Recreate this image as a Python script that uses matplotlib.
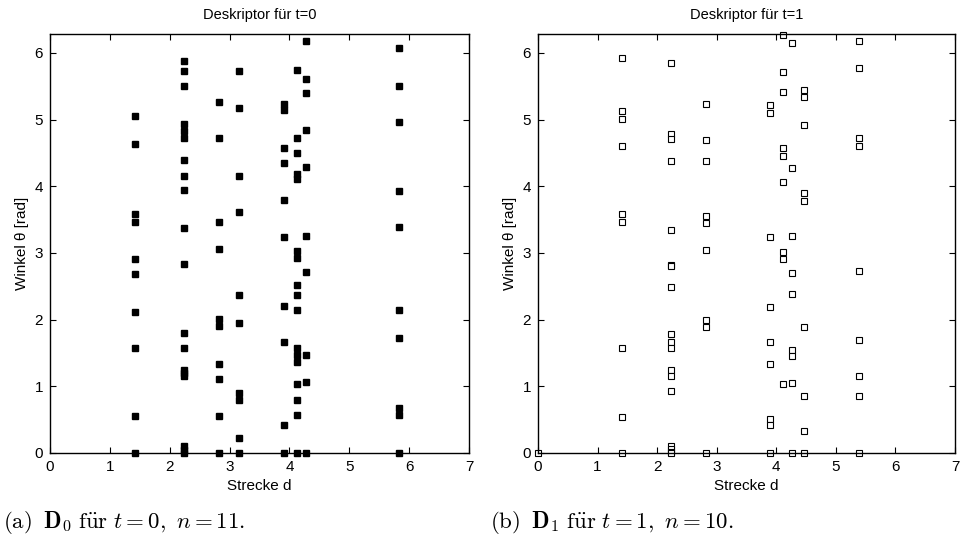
import numpy as np
import matplotlib
matplotlib.use("Agg")
import matplotlib.pyplot as plt

plt.rcParams.update({
    "font.family": ["Liberation Sans", "DejaVu Sans"],
    "mathtext.fontset": "cm",
    "xtick.direction": "in",
    "ytick.direction": "in",
    "xtick.top": True,
    "ytick.right": True,
})

# ---- data: (distance d, list of angles theta) per column ----
d0_cols = {
    1.414: [5.05, 4.63, 3.58, 3.47, 2.91, 2.69, 2.12, 1.58, 0.55, 0.0],
    2.236: [5.88, 5.73, 5.51, 4.94, 4.83, 4.73, 4.40, 4.16, 3.94, 3.37, 2.83,
            1.80, 1.58, 1.25, 1.20, 1.15, 0.10, 0.04, 0.0],
    2.828: [5.27, 4.73, 3.47, 3.06, 2.01, 1.90, 1.33, 1.11, 0.55, 0.0],
    3.162: [5.73, 5.18, 4.16, 3.61, 2.37, 1.95, 0.90, 0.79, 0.23, 0.0],
    3.905: [5.24, 5.14, 4.57, 4.35, 3.80, 3.24, 2.21, 1.67, 0.42, 0.0],
    4.123: [5.75, 4.73, 4.50, 4.18, 4.11, 3.03, 2.93, 2.52, 2.37, 2.14, 1.58,
            1.47, 1.36, 1.04, 0.79, 0.57, 0.0],
    4.275: [6.18, 5.61, 5.40, 4.84, 4.29, 3.25, 2.72, 1.47, 1.06, 0.0],
    5.831: [6.07, 5.50, 4.97, 3.93, 3.39, 2.14, 1.73, 0.68, 0.57, 0.0],
}

d1_cols = {
    0.0: [0.0],
    1.414: [5.93, 5.13, 5.01, 4.60, 3.58, 3.46, 1.57, 0.54, 0.0],
    2.236: [5.85, 4.79, 4.71, 4.38, 3.35, 2.82, 2.80, 2.49, 1.78, 1.67, 1.57,
            1.25, 1.16, 0.93, 0.11, 0.06, 0.02, 0.0],
    2.828: [5.23, 4.69, 4.38, 3.55, 3.45, 3.04, 1.99, 1.89, 0.0],
    3.90: [5.22, 5.10, 3.24, 2.19, 1.66, 1.34, 0.51, 0.42, 0.0],
    4.12: [6.27, 5.72, 5.41, 4.57, 4.45, 4.07, 3.02, 2.91, 1.03],
    4.27: [6.15, 4.27, 3.25, 2.70, 2.39, 1.54, 1.45, 1.05, 0.0],
    4.47: [5.44, 5.34, 4.92, 3.90, 3.78, 1.89, 0.86, 0.33, 0.0],
    5.385: [6.18, 5.77, 4.72, 4.60, 2.73, 1.70, 1.16, 0.85, 0.0],
}

titles = ["Deskriptor für t=0", "Deskriptor für t=1"]
captions = [r"$\mathrm{(a)}\;\;\mathbf{D}_0\ \mathrm{f\ddot{u}r}\ t=0,\ n=11.$",
            r"$\mathrm{(b)}\;\;\mathbf{D}_1\ \mathrm{f\ddot{u}r}\ t=1,\ n=10.$"]


def flatten(cols):
    xs, ys = [], []
    for d, angles in cols.items():
        xs.extend([d] * len(angles))
        ys.extend(angles)
    return np.array(xs), np.array(ys)


fig = plt.figure(figsize=(9.63, 5.45), dpi=100)
ax0 = fig.add_axes([50 / 963, 92 / 545, 419 / 963, 419 / 545])
ax1 = fig.add_axes([538 / 963, 92 / 545, 417 / 963, 419 / 545])

for ax, cols, title, filled in [(ax0, d0_cols, titles[0], True),
                                (ax1, d1_cols, titles[1], False)]:
    x, y = flatten(cols)
    if filled:
        ax.plot(x, y, "s", color="black", markersize=4.8, clip_on=False,
                linestyle="none")
    else:
        ax.plot(x, y, "s", markerfacecolor="white", markeredgecolor="black",
                markersize=3.8, markeredgewidth=0.8, clip_on=False,
                linestyle="none")
    ax.set_xlim(0, 7)
    ax.set_ylim(0, 2 * np.pi)
    ax.set_xticks(range(8))
    ax.set_yticks(range(7))
    ax.tick_params(labelsize=11, length=4, width=0.8, pad=5)
    ax.set_title(title, fontsize=10.5, pad=11)
    ax.set_xlabel("Strecke d", fontsize=11, labelpad=4)
    ax.set_ylabel("Winkel θ [rad]", fontsize=11, labelpad=4)
    for s in ax.spines.values():
        s.set_linewidth(1.0)

fig.text(3 / 963, 1 - 522 / 545, captions[0], fontsize=16.5, va="center",
         ha="left")
fig.text(490 / 963, 1 - 522 / 545, captions[1], fontsize=16.5, va="center",
         ha="left")

fig.savefig("out.png", dpi=100)
